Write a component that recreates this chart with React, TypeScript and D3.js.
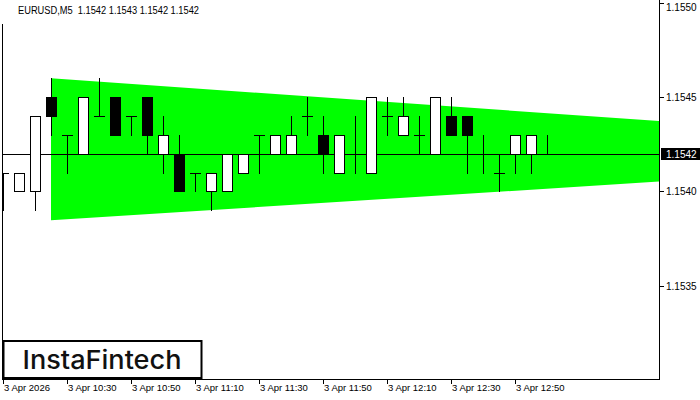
import React from "react";
import * as d3 from "d3";

const opens = [1.1541,1.1540,1.1540,1.1545,1.1543,1.1542,1.1544,1.1545,1.1544,1.1545,1.1542,1.1542,1.1541,1.1540,1.1540,1.1541,1.1543,1.1542,1.1542,1.1544,1.1543,1.1541,1.1542,1.1541,1.1544,1.1543,1.1543,1.1542,1.1544,1.1544,1.1542,1.1541,1.1542,1.1542,1.1542];
const highs = [1.1541,1.1541,1.1544,1.1546,1.1543,1.1545,1.1546,1.1545,1.1544,1.1545,1.1544,1.1543,1.1541,1.1541,1.1542,1.1542,1.1543,1.1543,1.1544,1.1545,1.1544,1.1543,1.1544,1.1545,1.1545,1.1545,1.1544,1.1545,1.1545,1.1544,1.1543,1.1542,1.1543,1.1543,1.1543];
const lows = [1.1539,1.1540,1.1539,1.1543,1.1541,1.1542,1.1544,1.1543,1.1543,1.1542,1.1541,1.1540,1.1540,1.1539,1.1540,1.1541,1.1541,1.1542,1.1542,1.1543,1.1541,1.1541,1.1541,1.1541,1.1543,1.1543,1.1542,1.1542,1.1543,1.1541,1.1541,1.1540,1.1541,1.1541,1.1542];
const closes = [1.1541,1.1541,1.1544,1.1544,1.1543,1.1545,1.1544,1.1543,1.1544,1.1543,1.1543,1.1540,1.1541,1.1541,1.1542,1.1542,1.1543,1.1543,1.1543,1.1544,1.1542,1.1543,1.1542,1.1545,1.1544,1.1544,1.1543,1.1545,1.1543,1.1543,1.1542,1.1541,1.1543,1.1543,1.1542];

const timeTickIndex = [0, 4, 8, 12, 16, 20, 24, 28, 32];
const timeTickLabels = ["3 Apr 2026", "3 Apr 10:30", "3 Apr 10:50", "3 Apr 11:10", "3 Apr 11:30", "3 Apr 11:50", "3 Apr 12:10", "3 Apr 12:30", "3 Apr 12:50"];
const priceTicks = [1.1550, 1.1545, 1.1540, 1.1535];
const currentPrice = 1.1542;
const headerText = "EURUSD,M5\u00A0\u00A01.1542 1.1543 1.1542 1.1542";

// triangle (pattern) boundaries: index and prices
const patternIndex = [3, 41];
const patternTop = [1.15460, 1.154373];
const patternBottom = [1.153847, 1.154052];

const FONT = "'Liberation Sans', Arial, sans-serif";

export default function App() {
  const x = d3.scaleLinear().domain([0, 41]).range([3, 659]);
  const y = d3.scaleLinear().domain([1.1535, 1.1550]).range([285.5, 3]);
  const py = (p: number) => Math.round(y(p)) + 0.5;
  const fmt = d3.format(".4f");

  const poly = [
    [x(patternIndex[0]), y(patternTop[0])],
    [x(patternIndex[1]), y(patternTop[1])],
    [x(patternIndex[1]), y(patternBottom[1])],
    [x(patternIndex[0]), y(patternBottom[0])],
  ];
  const polyPath = d3.line()(poly as [number, number][]) + "Z";

  return (
    <svg width={700} height={400} style={{ position: "absolute", left: 0, top: 0, background: "#fff" }}>
      <defs>
        <clipPath id="plot">
          <rect x={3} y={0} width={656} height={379} />
        </clipPath>
      </defs>
      <rect x={0} y={0} width={700} height={400} fill="#fff" />
      <g clipPath="url(#plot)">
        <path d={polyPath} fill="#00ff00" />
        <line x1={3} x2={659} y1={py(currentPrice)} y2={py(currentPrice)} stroke="#000" strokeWidth={1} />
        {opens.map((o, i) => {
          const cx = Math.round(x(i));
          const c = closes[i];
          const h = highs[i];
          const l = lows[i];
          const wick = (
            <line x1={cx + 0.5} x2={cx + 0.5} y1={Math.round(y(h))} y2={Math.round(y(l)) + 1} stroke="#000" strokeWidth={1} />
          );
          if (o === c) {
            return (
              <g key={i}>
                {wick}
                <line x1={cx - 5} x2={cx + 6} y1={py(o)} y2={py(o)} stroke="#000" strokeWidth={1} />
              </g>
            );
          }
          const top = Math.round(y(Math.max(o, c)));
          const bot = Math.round(y(Math.min(o, c)));
          const bull = c > o;
          return (
            <g key={i}>
              {wick}
              <rect x={cx - 4.5} y={top + 0.5} width={10} height={bot - top} fill={bull ? "#fff" : "#000"} stroke="#000" strokeWidth={1} />
            </g>
          );
        })}
      </g>
      {/* frame */}
      <line x1={2.5} x2={2.5} y1={24} y2={379} stroke="#000" strokeWidth={1} />
      <line x1={659.5} x2={659.5} y1={0} y2={380} stroke="#000" strokeWidth={1} />
      <line x1={2} x2={660} y1={379.5} y2={379.5} stroke="#000" strokeWidth={1} />
      {/* header */}
      <text x={18} y={14} fontFamily={FONT} fontSize={10} textLength={181} lengthAdjust="spacingAndGlyphs" fill="#000">{headerText}</text>
      {/* right axis */}
      {priceTicks.map((p) => (
        <g key={p}>
          <line x1={660} x2={664} y1={py(p)} y2={py(p)} stroke="#000" strokeWidth={1} />
          <text x={666} y={Math.max(py(p), 7)} dy="0.35em" fontFamily={FONT} fontSize={10} fill="#000">{fmt(p)}</text>
        </g>
      ))}
      <rect x={661} y={148} width={39} height={12} fill="#000" />
      <text x={666} y={py(currentPrice)} dy="0.35em" fontFamily={FONT} fontSize={10} fill="#fff">{fmt(currentPrice)}</text>
      {/* bottom axis */}
      {timeTickIndex.map((ti, k) => {
        const tx = Math.round(x(ti)) + 0.5;
        return (
          <g key={ti}>
            <line x1={tx} x2={tx} y1={380} y2={384} stroke="#000" strokeWidth={1} />
            <text x={tx + 0.5} y={391} fontFamily={FONT} fontSize={9.5} fill="#000">{timeTickLabels[k]}</text>
          </g>
        );
      })}
      {/* logo */}
      <rect x={3.5} y={341} width={198} height={37} fill="#fff" stroke="#000" strokeWidth={2} />
      <text x={22.5} y={369} fontFamily="Inter, 'Open Sans', sans-serif" fontWeight={500} fontSize={26} textLength={159} lengthAdjust="spacingAndGlyphs" fill="#111">InstaFintech</text>
    </svg>
  );
}
